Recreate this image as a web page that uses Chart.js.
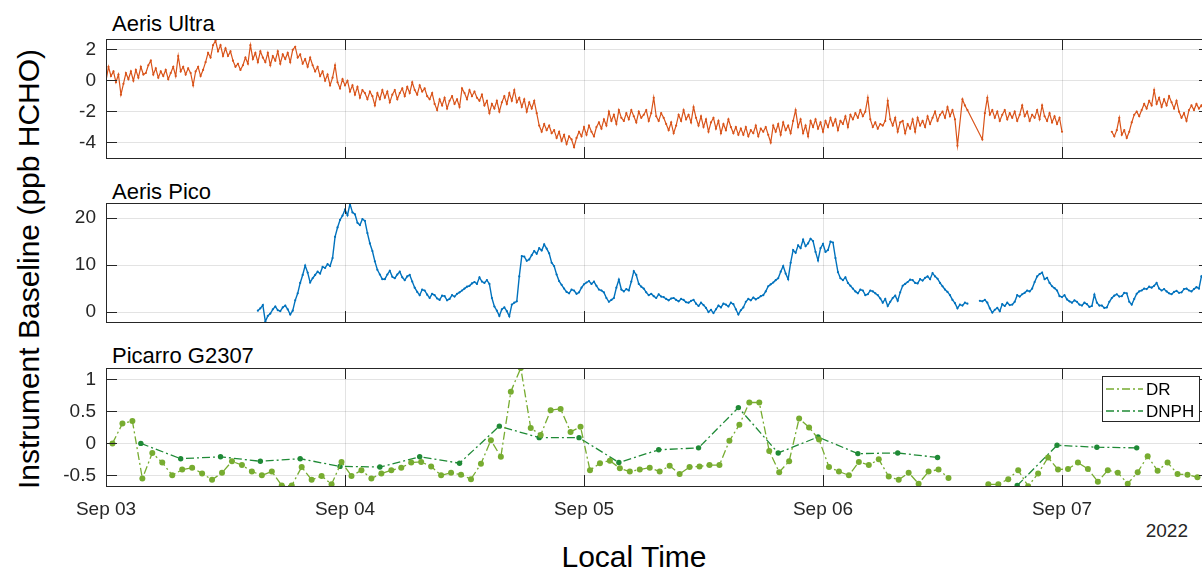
<!DOCTYPE html>
<html>
<head>
<meta charset="utf-8">
<script src="https://cdn.jsdelivr.net/npm/chart.js@4.4.1/dist/chart.umd.min.js"></script>
<style>
  body { margin: 0; width: 1202px; height: 573px; overflow: hidden; background: #fff; position: relative;
         font-family: 'Liberation Sans', Arial, sans-serif; }
  canvas { position: absolute; left: 0; }
  .title { position: absolute; left: 112px; font-size: 22px; line-height: 22px; color: #000; white-space: nowrap; }
  #ylab { position: absolute; left: 29px; top: 269px; font-size: 30px; line-height: 30px; white-space: nowrap;
          transform: translate(-50%, -50%) rotate(-90deg); }
  #xlab { position: absolute; left: 634px; top: 542px; font-size: 30px; line-height: 30px; white-space: nowrap;
          transform: translateX(-50%); }
  #year { position: absolute; right: 14px; top: 521px; font-size: 19px; line-height: 19px; color: #262626; }
</style>
</head>
<body>
<div class="title" style="top:13px">Aeris Ultra</div>
<div class="title" style="top:181px">Aeris Pico</div>
<div class="title" style="top:345px">Picarro G2307</div>
<div id="ylab">Instrument Baseline (ppb HCHO)</div>
<div id="xlab">Local Time</div>
<div id="year">2022</div>

<canvas id="ultra" width="1215" height="180" style="top:0px"></canvas>
<canvas id="pico" width="1215" height="180" style="top:165px"></canvas>
<canvas id="picarro" width="1215" height="210" style="top:330px"></canvas>

<script>
// x values are hours since Sep 03 00:00 local time
const xMax = 110.86;
const dayTicks = [0, 24, 48, 72, 96];
const halfDayTicks = [0, 12, 24, 36, 48, 60, 72, 84, 96, 108];
const dayLabels = ['Sep 03', 'Sep 04', 'Sep 05', 'Sep 06', 'Sep 07'];

// Aeris Ultra, one value every 15 min from hour 0, one row = 4 h
// (empty slot = no sample, the line runs on; null = gap in the line)
const ultraValues = [
  0.0, 0.9, 0.3, 0.6, -0.1, 0.4, -0.9, -0.2, 0.5, 0.1, 0.6, 0.0, 0.7, 0.2, 0.9, 0.4,
  0.5, 1.0, 1.3, 0.4, 0.8, 0.2, 0.6, 0.3, 0.7, 0.1, 0.5, 0.9, 0.3, 1.6, 0.6, 0.9,
  0.4, 0.8, 0.5, -0.3, 0.6, 0.9, 0.3, 0.7, 1.2, 1.8, 1.5, 2.3, 2.6, 1.9, 2.3, 1.6,
  2.1, 1.6, 1.9, 1.3, 0.9, 1.1, 0.7, 1.0, 1.5, 1.1, 2.3, 1.4, 1.8, 1.2, 1.9, 1.5,
  1.2, 1.8, 1.0, 1.6, 1.3, 1.9, 1.1, 1.7, 1.4, 1.8, 1.2, 2.0, 2.2, 1.5, 1.7, 1.1,
  1.4, 0.9, 1.5, 1.0, 0.6, 0.9, 0.3, 0.6, 0.0, 0.4, -0.3, 0.2, 1.0, -0.1, -0.5, 0.1,
  -0.3, 0.0, -0.7, -0.3, -0.9, -0.4, -1.1, -0.6, -0.8, -1.2, -0.7, -1.0, -1.6, -0.8, -1.2, -0.6,
  -1.1, -0.7, -1.4, -0.9, -0.6, -1.2, -0.8, -0.5, -1.0, -0.4, -0.8, -0.1, -0.6, -0.9, -0.3, -0.7,
  -0.5, -1.0, -1.2, -0.8, -1.5, -1.9, -1.2, -1.6, -1.1, -1.8, -1.3, -1.0, -1.5, -1.2, -1.7, -0.5,
  -0.8, -1.2, -0.6, -1.0, -0.7, -1.1, -1.3, -0.9, -1.6, -1.3, -2.1, -1.5, -1.8, -1.3, -2.0, -1.4,
  -1.0, -1.5, -0.8, -1.3, -0.6, -1.4, -1.1, -1.7, -1.2, -2.0, -1.4, -1.8, -1.3, -2.1, -2.9, -3.3,
  -2.8, -3.2, -2.9, -3.4, -3.2, -3.7, -3.3, -3.9, -3.5, -4.1, -3.6, -3.8, -4.3, -3.7, -3.3, -3.6,
  -3.0, -3.5, -2.9, -3.3, -3.6, -3.0, -2.7, -3.1, -2.5, -2.9, -2.0, -2.6, -2.2, -2.8, -1.9, -2.4,
  -2.6, -2.1, -2.5, -1.9, -2.3, -2.7, -2.0, -2.4, -2.2, -1.9, -2.6, -2.1, -1.1, -2.3, -2.6, -2.1,
  -2.4, -2.8, -3.2, -2.7, -3.4, -2.9, -2.2, -2.6, -1.9, -2.5, -2.2, -2.7, -1.7, -2.4, -2.9, -2.3,
  -3.0, -2.5, -3.3, -2.7, -2.4, -3.1, -2.6, -3.4, -2.8, -3.2, -2.5, -3.0, -3.4, -3.0, -3.5, -3.1,
  -3.5, -3.0, -3.6, -3.2, -3.4, -2.9, -3.6, -3.1, -3.3, -3.0, -3.5, -4.0, -2.9, -3.3, -2.8, -3.5,
  -2.7, -3.2, -2.9, -3.4, -2.6, -1.9, -3.0, -2.5, -3.4, -2.9, -3.6, -2.6, -3.0, -2.5, -3.1, -2.7,
  -3.3, -2.6, -3.0, -2.4, -2.9, -2.5, -3.2, -2.6, -2.8, -2.3, -3.0, -2.2, -2.5, -2.1, -2.4, -1.9,
  -2.3, -2.0, -1.1, -2.5, -3.0, -2.7, -3.1, -2.8, -2.9, -2.6, -1.3, -2.5, -2.9, -2.4, -3.3, -2.7,
  -2.6, -3.4, -2.8, -3.1, -2.5, -3.3, -2.4, -2.9, -2.6, -3.0, -2.3, -2.8, -2.4, -2.0, -2.6, -2.2,
  -2.0, -2.4, -1.7, -2.3, -1.9, -2.5, -4.2, , -1.2, -1.6, -1.9, , , , , ,
  -3.8, -2.1, -1.1, -2.2, -1.9, -2.4, -2.0, -2.6, -2.2, -1.9, -2.5, -2.1, -2.4, -2.0, -2.6, -2.2,
  -1.6, -2.3, -2.0, -2.6, -2.2, -2.4, -1.9, -2.5, -1.6, -2.3, -2.6, -2.1, -2.7, -2.3, -2.8, -2.4,
  -3.3, null, null, null, null, null, null, null, null, null, null, null, null, null, null, null,
  null, null, null, null, -3.3, -3.6, -3.2, -2.4, -3.5, -3.2, -3.7, -3.3, -2.7, -2.2, -2.0, -2.3,
  -1.9, -1.5, -1.8, -1.3, -1.6, -0.6, -1.5, -1.1, -1.7, -1.2, -1.6, -1.0, -1.4, -1.8, -1.3, -2.0,
  -2.4, -2.1, -2.6, -1.9, -1.6, -1.9, -1.5, -1.8, -1.6, -1.9, -1.7, -2.0, -1.8
];
const ultraStart = 0;
const ultraStep = 0.25;

// Aeris Pico, one value every 15 min from hour 15, one row = 4 h
const picoValues = [
  , 0.3, 0.8, 1.5, -2.0, -0.8, -0.3, 0.6, 1.2, 0.4, 0.2, 1.0, 1.4, 0.6, -0.5, 0.3,
  2.5, 4.0, 6.2, 7.9, 9.9, 8.4, 6.3, 7.2, 7.9, 8.6, 8.2, 9.6, 9.4, 10.2, 9.8, 11.5,
  16.0, 18.0, 19.6, 20.5, 21.8, 20.6, 23.0, 21.2, 20.8, 19.0, 18.5, 19.8, 19.4, 16.8, 14.6, 13.0,
  10.8, 9.0, 8.0, 7.0, 7.0, 8.0, 8.8, 7.5, 7.2, 8.0, 8.6, 7.4, 6.8, 7.6, 7.9, 6.5,
  5.2, 4.3, 3.6, 4.8, 4.6, 3.7, 3.0, 3.9, 3.6, 2.9, 2.6, 3.5, 3.4, 2.5, 2.8, 3.6,
  3.3, 3.9, 4.2, 4.6, 5.0, 5.4, 5.6, 6.1, 6.4, 6.0, 7.4, 6.5, 6.2, 6.8, 6.0, 3.0,
  1.2, 0.3, -0.8, 0.6, 1.0, 0.2, -0.9, 1.6, 2.0, 2.3, 7.6, 11.9, 11.8, 10.9, 11.2, 12.1,
  13.0, 12.4, 13.6, 13.1, 14.4, 13.5, 12.5, 10.5, 9.8, 8.0, 6.6, 5.8, 5.0, 4.3, 4.0, 4.8,
  4.6, 3.9, 4.2, 5.2, 5.9, 6.3, 6.6, 6.0, 6.5, 5.6, 4.8, 4.6, 4.2, 3.0, 2.2, 2.6,
  3.0, 5.2, 6.9, 4.8, 4.4, 4.9, 4.6, 6.5, 8.7, 7.9, 6.0, 5.4, 5.0, 4.2, 3.6, 3.9,
  3.4, 3.0, 3.8, 3.3, 3.2, 2.8, 2.5, 2.9, 3.0, 2.6, 2.3, 2.8, 2.6, 2.1, 2.0, 2.4,
  2.6, 1.8, 1.3, 2.0, 1.5, 0.9, 0.0, 0.5, -0.2, 0.6, 1.4, 1.0, 1.8, 1.6, 1.2, 2.0,
  1.7, 0.6, -0.5, 0.4, 1.0, 2.2, 2.8, 2.5, 3.1, 2.7, 3.0, 3.4, 3.6, 4.4, 5.5, 5.9,
  6.3, 6.8, 7.2, 8.6, 9.8, 8.2, 7.0, 10.5, 13.2, 12.6, 14.2, 13.6, 15.4, 14.0, 14.6, 15.6,
  15.1, 12.8, 11.0, 13.6, 14.5, 12.8, 13.2, 15.0, 14.8, 11.5, 8.5, 7.2, 6.8, 7.4, 6.2, 5.6,
  5.0, 4.4, 4.0, 4.8, 4.6, 3.6, 3.8, 4.6, 4.4, 4.0, 3.6, 2.9, 2.0, 2.8, 1.3, 2.2,
  3.0, 3.5, 2.4, 4.2, 5.6, 6.0, 6.4, 6.9, 6.8, 6.2, 6.1, 7.0, 6.7, 7.3, 7.6, 7.0,
  8.3, 7.6, 7.1, 6.2, 5.5, 4.8, 4.3, 3.6, 2.6, 1.9, 0.8, 1.6, 1.4, 2.0, 1.8, null,
  null, null, null, 2.4, 2.3, 2.6, 2.0, 0.8, -0.1, 0.5, 0.9, 0.2, 1.7, 1.3, 2.0, 1.5,
  1.6, 2.2, 3.6, 3.3, 3.8, 4.1, 4.6, 4.4, 5.0, 6.4, 7.6, 8.1, 8.4, 7.0, 7.3, 6.2,
  5.5, 5.1, 4.6, 3.4, 3.2, 3.6, 2.7, 2.3, 2.0, 2.5, 2.2, 1.6, 1.4, 2.0, 1.7, 1.1,
  1.3, 3.7, 2.0, 1.4, 1.4, 0.9, 1.0, 2.2, 3.0, 3.5, 3.8, 3.3, 3.4, 4.1, 4.0, 2.2,
  1.6, 2.8, 3.9, 4.4, 4.6, 5.0, 4.9, 5.4, 5.2, 5.6, 6.2, 5.0, 4.6, 4.9, 4.4, 4.0,
  3.8, 4.3, 4.5, 4.1, 4.2, 4.9, 5.0, 4.6, 4.4, 4.9, 5.3, 5.0, 7.6, 7.0, 7.0, 7.4
];
const picoStart = 15;
const picoStep = 0.25;

// Picarro G2307 baseline against DR and DNPH
const drHours = [
  0.65, 1.65, 2.65, 3.65, 4.65, 5.65, 6.65, 7.65, 8.65, 9.65, 10.65, 11.65, 12.65, 13.65, 14.65, 15.65, 16.65, 17.65, 18.65, 19.65,
  20.65, 21.65, 22.65, 23.65, 24.65, 25.65, 26.65, 27.65, 28.65, 29.65, 30.65, 31.65, 32.65, 33.65, 34.65, 35.65, 36.65, 37.65,
  38.65, 39.65, 40.65, 41.65, 42.65, 43.65, 44.65, 45.65, 46.65, 47.65, 48.6, 49.6, 50.6, 51.6, 52.6, 53.6, 54.6, 55.6, 56.6,
  57.6, 58.6, 59.6, 60.6, 61.6, 62.6, 63.6, 64.6, 65.6, 66.6, 67.6, 68.6, 69.6, 70.6, 71.6, 72.6, 73.6, 74.6, 75.6, 76.6, 77.6,
  78.6, 79.6, 80.6, 81.6, 82.6, 83.6, 84.6, 86.6, 88.6, 89.6, 90.6, 91.6, 92.6, 93.6, 94.6, 95.6, 96.6, 97.6, 98.6, 99.6, 100.6,
  101.6, 102.6, 103.6, 104.6, 105.6, 106.6, 107.6, 108.6, 109.6
];
const drValues = [
  0, 0.31, 0.35, -0.55, -0.15, -0.30, -0.50, -0.41, -0.38, -0.47, -0.57, -0.46, -0.28, -0.34, -0.44, -0.50, -0.44, -0.66, -0.66, -0.37,
  -0.57, -0.51, -0.64, -0.29, -0.51, -0.42, -0.55, -0.47, -0.42, -0.38, -0.30, -0.29, -0.36, -0.50, -0.46, -0.49, -0.56, -0.32,
  0.05, -0.21, 0.81, 1.18, 0.24, 0.13, 0.52, 0.54, 0.18, 0.26, -0.42, -0.31, -0.27, -0.39, -0.44, -0.41, -0.38, -0.44, -0.35,
  -0.48, -0.37, -0.36, -0.34, -0.34, 0.04, 0.29, 0.64, 0.64, -0.12, -0.45, -0.28, 0.39, 0.25, 0.06, -0.37, -0.44, -0.50, -0.29, -0.34, -0.25,
  -0.52, -0.57, -0.46, -0.63, -0.44, -0.41, -0.54, null, -0.64, -0.64, -0.56, -0.42, -0.67, -0.47, -0.22, -0.41, -0.40, -0.30, -0.40, -0.60, -0.42,
  -0.46, -0.63, -0.45, -0.20, -0.43, -0.30, -0.48, -0.49, -0.53
];
const dnphHours = [3.5, 7.5, 11.5, 15.5, 19.5, 23.5, 27.5, 31.5, 35.5, 39.5, 43.5, 47.5, 51.5, 55.5, 59.5, 63.5, 67.5, 71.5,
  75.5, 79.5, 83.5, 87.5, 91.5, 95.5, 99.5, 103.5];
const dnphValues = [0, -0.24, -0.21, -0.28, -0.24, -0.36, -0.37, -0.21, -0.31, 0.27, 0.09, 0.09, -0.30, -0.10, -0.07, 0.56, -0.15, 0.10,
  -0.16, -0.15, -0.22, null, -0.66, -0.03, -0.06, -0.07];

const ultraTicks = [-4, -2, 0, 2];
const picoTicks = [0, 10, 20];
const picarroTicks = [-0.5, 0, 0.5, 1];

const FONT = "'Liberation Sans', Arial, sans-serif";
const AXIS = '#262626';
const GRID = 'rgba(38,38,38,0.13)';

function stepPoints(start, step, values) {
  const pts = [];
  values.forEach((v, i) => pts.push({ x: start + i * step, y: v }));  // forEach skips the empty slots
  return pts;
}

function pairPoints(hours, values) {
  return hours.map((h, i) => ({ x: h, y: values[i] }));
}

function align(v) {
  return Math.round(v - 0.5) + 0.5;
}

// MATLAB style box with inward ticks on all four sides
const boxTicks = {
  id: 'boxTicks',
  afterDraw(chart) {
    const ctx = chart.ctx;
    const a = chart.chartArea;
    const xs = chart.scales.x, ys = chart.scales.y;
    const L = 11;
    ctx.save();
    ctx.strokeStyle = AXIS;
    ctx.lineWidth = 1;
    ctx.beginPath();
    xs.ticks.forEach(t => {
      const px = align(xs.getPixelForValue(t.value));
      ctx.moveTo(px, a.top); ctx.lineTo(px, a.top + L);
      ctx.moveTo(px, a.bottom); ctx.lineTo(px, a.bottom - L);
    });
    ys.ticks.forEach(t => {
      const py = align(ys.getPixelForValue(t.value));
      ctx.moveTo(a.left, py); ctx.lineTo(a.left + L, py);
      ctx.moveTo(a.right, py); ctx.lineTo(a.right - L, py);
    });
    ctx.stroke();
    ctx.strokeRect(align(a.left), align(a.top), align(a.right) - align(a.left), align(a.bottom) - align(a.top));
    ctx.restore();
  }
};

const boxLegend = {
  id: 'boxLegend',
  afterDraw(chart) {
    const ctx = chart.ctx;
    const a = chart.chartArea;
    const w = 98, h = 46;
    const left = Math.round(a.right - 10 - w), top = Math.round(a.top + 8);
    ctx.save();
    ctx.fillStyle = '#fff';
    ctx.fillRect(left, top, w, h);
    ctx.strokeStyle = AXIS;
    ctx.lineWidth = 1;
    ctx.strokeRect(left + 0.5, top + 0.5, w - 1, h - 1);
    chart.data.datasets.forEach((ds, i) => {
      const y = top + 13 + i * 22;
      ctx.strokeStyle = ds.borderColor;
      ctx.lineWidth = ds.borderWidth;
      ctx.setLineDash(ds.borderDash);
      ctx.beginPath();
      ctx.moveTo(left + 4, y);
      ctx.lineTo(left + 41, y);
      ctx.stroke();
      ctx.setLineDash([]);
      ctx.fillStyle = '#000';
      ctx.font = '17px ' + FONT;
      ctx.textBaseline = 'middle';
      ctx.fillText(ds.label, left + 44, y + 1);
    });
    ctx.restore();
  }
};

function makePanel(id, datasets, yMin, yMax, yTicks, xTicks, padTop, padBottom, xHeight, plugins) {
  const showX = xHeight > 0;
  return new Chart(document.getElementById(id).getContext('2d'), {
    type: 'line',
    data: { datasets: datasets },
    options: {
      responsive: false,
      animation: false,
      events: [],
      layout: { padding: { left: 0, right: 5, top: padTop, bottom: padBottom } },
      plugins: { legend: { display: false }, tooltip: { enabled: false } },
      scales: {
        x: {
          type: 'linear',
          min: 0,
          max: xMax,
          afterBuildTicks: s => { s.ticks = xTicks.map(v => ({ value: v })); },
          afterFit: s => { s.height = xHeight; },
          border: { display: false },
          grid: { color: GRID, drawTicks: false },
          ticks: {
            display: showX,
            autoSkip: false,
            maxRotation: 0,
            padding: 12,
            color: AXIS,
            font: { family: FONT, size: 19 },
            callback: v => dayLabels[dayTicks.indexOf(v)]
          }
        },
        y: {
          min: yMin,
          max: yMax,
          afterBuildTicks: s => { s.ticks = yTicks.map(v => ({ value: v })); },
          afterFit: s => { s.width = 106; },
          border: { display: false },
          grid: { color: GRID, drawTicks: false },
          ticks: {
            padding: 10,
            color: AXIS,
            font: { family: FONT, size: 19 },
            callback: v => String(v)
          }
        }
      }
    },
    plugins: plugins
  });
}

function main() {
  makePanel('ultra', [{
    label: 'Aeris Ultra',
    data: stepPoints(ultraStart, ultraStep, ultraValues),
    borderColor: '#D95319',
    backgroundColor: '#D95319',
    borderWidth: 1.2,
    pointRadius: 1.1,
    pointBorderWidth: 0,
    spanGaps: false
  }], -5.0, 2.7, ultraTicks, halfDayTicks, 39, 22, 0, [boxTicks]);

  makePanel('pico', [{
    label: 'Aeris Pico',
    data: stepPoints(picoStart, picoStep, picoValues),
    borderColor: '#0072BD',
    backgroundColor: '#0072BD',
    borderWidth: 1.4,
    pointRadius: 1.1,
    pointBorderWidth: 0,
    spanGaps: false
  }], -2.1, 23.2, picoTicks, dayTicks, 38, 23, 0, [boxTicks]);

  makePanel('picarro', [{
    label: 'DR',
    data: pairPoints(drHours, drValues),
    borderColor: '#77AC30',
    backgroundColor: '#77AC30',
    borderWidth: 1.3,
    borderDash: [8, 3, 2, 3],
    pointRadius: 3,
    pointBorderWidth: 0,
    spanGaps: false
  }, {
    label: 'DNPH',
    data: pairPoints(dnphHours, dnphValues),
    borderColor: '#1F8A36',
    backgroundColor: '#1F8A36',
    borderWidth: 1.3,
    borderDash: [8, 3, 2, 3],
    pointRadius: 2.7,
    pointBorderWidth: 0,
    spanGaps: false
  }], -0.667, 1.18, picarroTicks, dayTicks, 38, 0, 54, [boxTicks, boxLegend]);
}

main();
</script>
</body>
</html>
